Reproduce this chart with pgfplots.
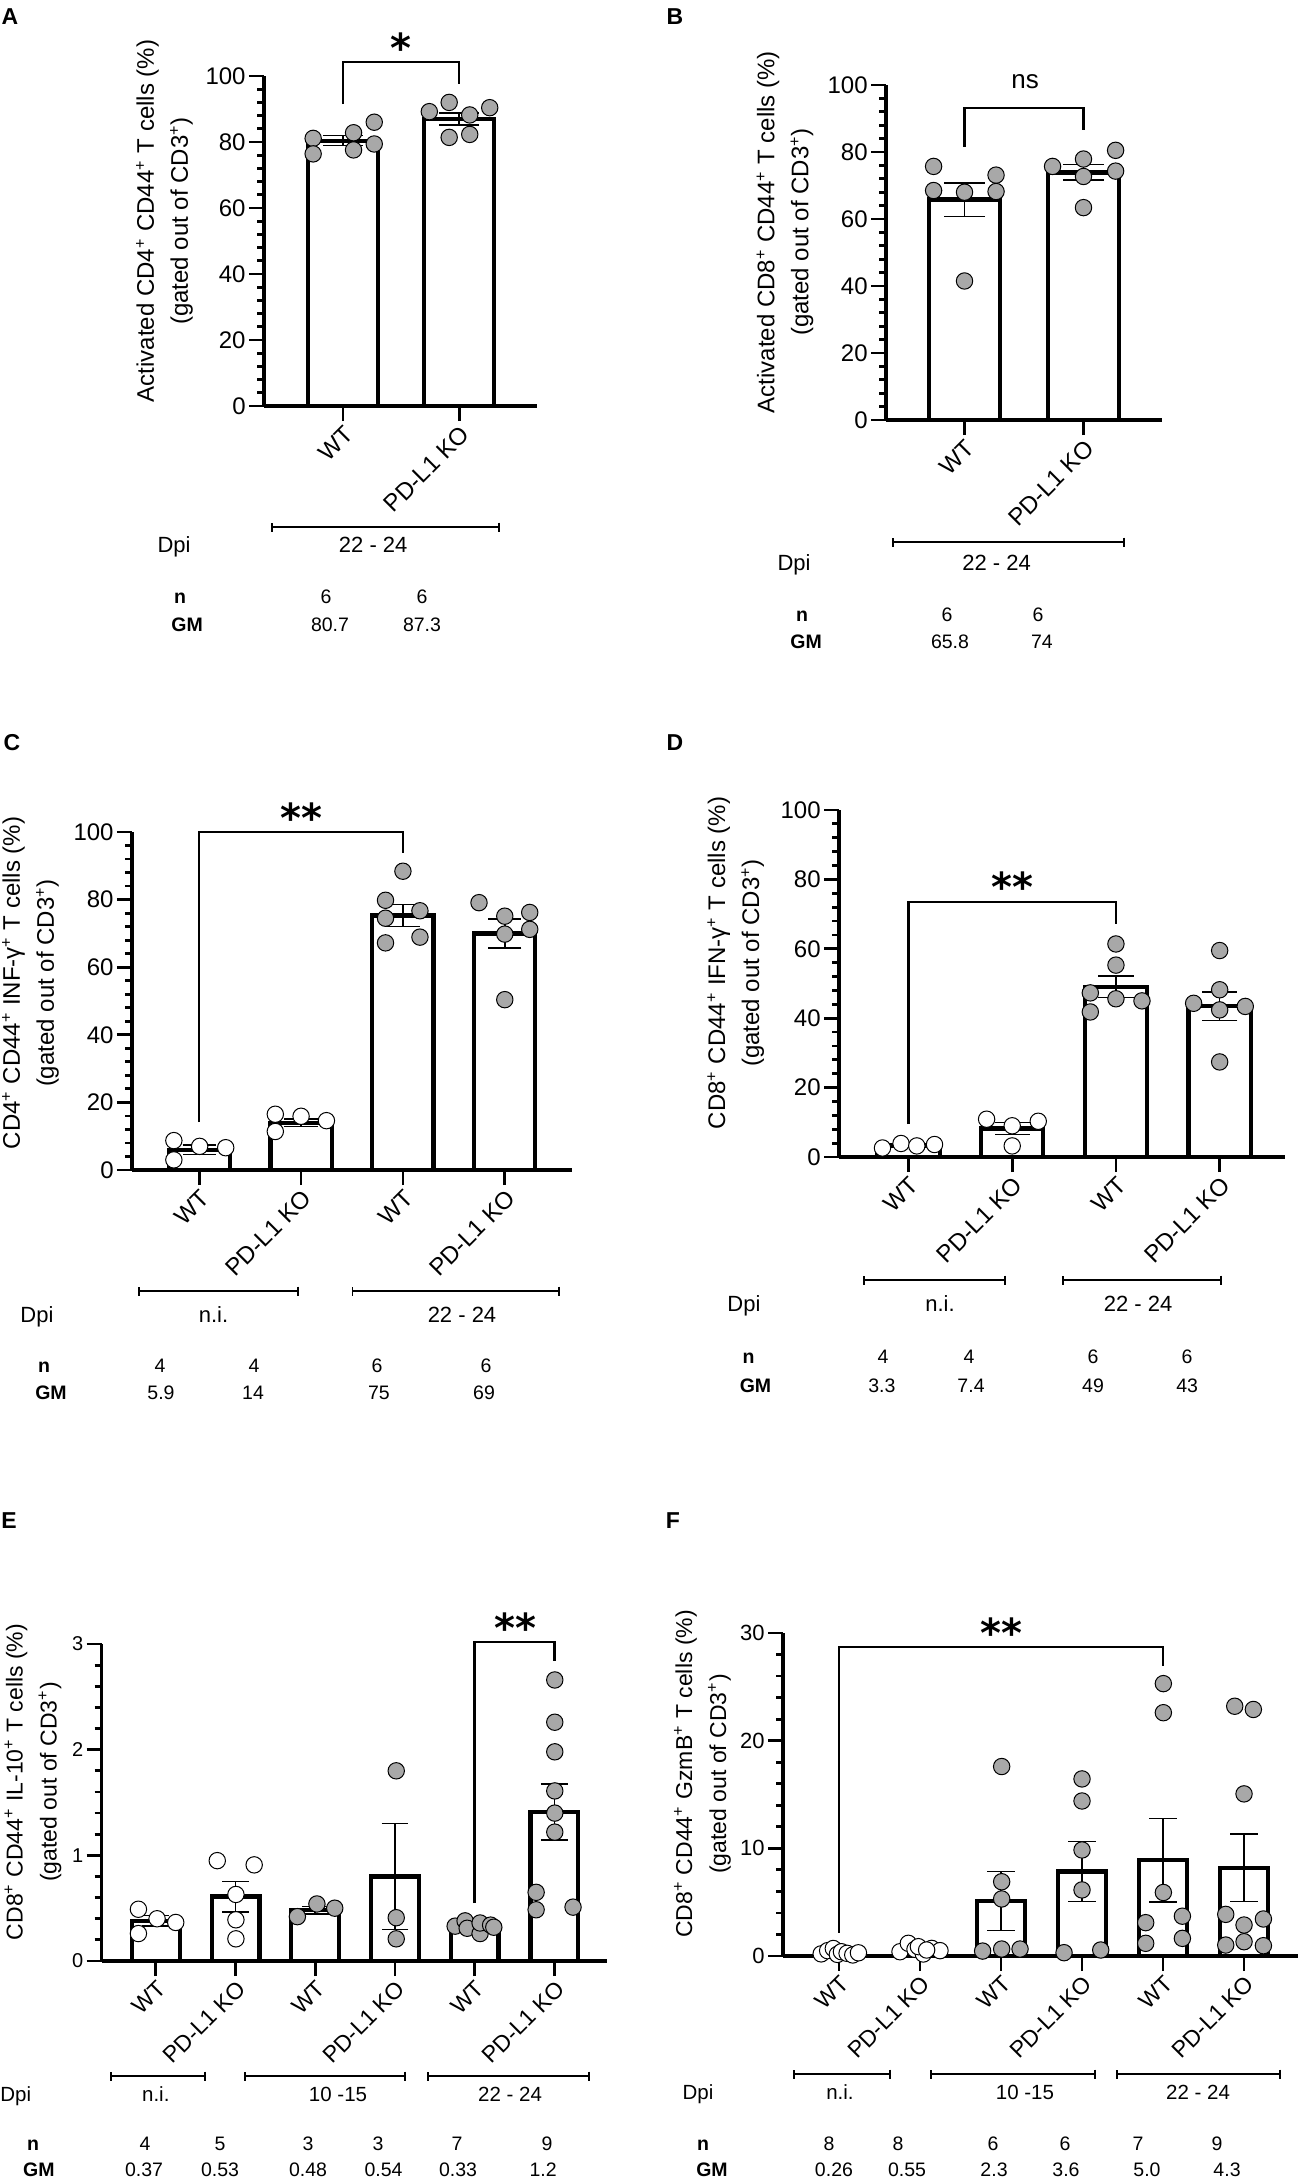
\documentclass[border=0pt]{standalone}
\usepackage{fontspec}
\setmainfont{Liberation Sans}
\newfontfamily\djv{DejaVu Sans}
\usepackage{pgfplots}
\pgfplotsset{compat=1.18}
\usetikzlibrary{arrows.meta}
\definecolor{ptgray}{RGB}{168,168,168}
\newcommand\starf{\djv\bfseries\fontsize{20}{20}\selectfont}
\newcommand\dpif{\fontsize{11}{11}\selectfont}
\newcommand\dpifs{\fontsize{10.25}{10.25}\selectfont}
\newcommand\nf{\fontsize{9.75}{9.75}\selectfont}
\newcommand\nbf{\fontsize{9.75}{9.75}\selectfont\bfseries}
\tikzset{
 brk/.style={line width=1.25pt, black},
 dpi/.style={line width=0.85pt, {Bar[width=4.5pt]}-{Bar[width=4.5pt]}},
}
\pgfplotsset{
 panel/.style={
  scale only axis, anchor=south west,
  axis x line*=bottom, axis y line*=left,
  axis line style={line width=1.9pt, black},
  tick align=outside,
  major tick length=7.5pt, minor tick length=3.5pt,
  tick style={line width=1.4pt, black},
  ymin=0, clip=false,
  minor y tick num=4,
  /pgf/number format/assume math mode=true,
  x tick label style={rotate=45, anchor=north east, inner sep=1pt},
  y tick label style={inner sep=1.5pt},
  ylabel style={align=center, anchor=center},
 },
 bars/.style={ybar, bar width=0.6, draw=black, fill=white, line width=2.1pt},
 gpts/.style={only marks, mark=*, mark size=4.1pt, mark options={fill=ptgray, draw=black, line width=0.5pt, solid}},
 wpts/.style={only marks, mark=*, mark size=4.1pt, mark options={fill=white, draw=black, line width=0.5pt, solid}},
 sem/.style={draw=none, mark=none, error bars/.cd, y dir=both, y explicit, error bar style={draw=black, line width=0.75pt, solid}, error mark options={rotate=90, mark size=#1, line width=0.75pt, draw=black}},
}
\begin{document}
\begin{tikzpicture}
\useasboundingbox (0,0) rectangle (649.5pt,-1089pt);
% panel letters
\node[anchor=base, font=\fontsize{11.5}{11.5}\selectfont\bfseries] at (5pt,-12.3pt) {A};
\node[anchor=base, font=\fontsize{11.5}{11.5}\selectfont\bfseries] at (337.5pt,-12.3pt) {B};
\node[anchor=base, font=\fontsize{11.5}{11.5}\selectfont\bfseries] at (6pt,-375.3pt) {C};
\node[anchor=base, font=\fontsize{11.5}{11.5}\selectfont\bfseries] at (337.5pt,-375.3pt) {D};
\node[anchor=base, font=\fontsize{11.5}{11.5}\selectfont\bfseries] at (4.5pt,-764.3pt) {E};
\node[anchor=base, font=\fontsize{11.5}{11.5}\selectfont\bfseries] at (336.5pt,-764.3pt) {F};

% ---------------- A ----------------
\begin{axis}[panel, at={(132pt,-203pt)}, width=136.5pt, height=165pt,
 xmin=-0.68, xmax=1.67, ymax=100, ytick={0,20,...,100},
 xtick={0,1}, xticklabels={WT,PD-L1 KO},
 x tick label style={font=\fontsize{12}{12}\selectfont},
 y tick label style={font=\fontsize{12}{12}\selectfont},
 ylabel={Activated CD4\textsuperscript{+} CD44\textsuperscript{+} T cells (\%)\\(gated out of CD3\textsuperscript{+})},
 ylabel style={font=\fontsize{12}{17}\selectfont, at={(axis description cs:-0.3645,0.5606)}}]
\addplot[bars] coordinates {(0,80.4) (1,87.0)};
\addplot[gpts] coordinates {(-0.257,81.1) (-0.257,76.4) (0.091,82.8) (0.091,77.6) (0.269,86.0) (0.269,79.4)
 (0.743,89.2) (0.914,92.0) (1.091,88.2) (1.263,90.4) (0.914,81.4) (1.091,82.3)};
\addplot[sem=10pt] coordinates {(0,80.4) +- (0,1.5) (1,87.0) +- (0,1.8)};
\draw[brk] (axis cs:0,91.5) -- (axis cs:0,104.2) -- (axis cs:1,104.2) -- (axis cs:1,97.6);
\node[anchor=base, font=\starf] at (axis cs:0.5,104.2) {*};
\draw[dpi] ([yshift=-60.5pt]axis cs:-0.62,0) -- ([yshift=-60.5pt]axis cs:1.35,0);
\node[anchor=base, font=\dpif] at ([yshift=-73pt]axis cs:0.26,0) {22 - 24};
\node[anchor=base, font=\dpif] at ([yshift=-73pt]axis cs:-1.454,0) {Dpi};
\node[anchor=base, font=\nbf] at ([yshift=-98.5pt]axis cs:-1.403,0) {n};
\node[anchor=base, font=\nf] at ([yshift=-98.5pt]axis cs:-0.146,0) {6};
\node[anchor=base, font=\nf] at ([yshift=-98.5pt]axis cs:0.68,0) {6};
\node[anchor=base, font=\nbf] at ([yshift=-112.5pt]axis cs:-1.342,0) {GM};
\node[anchor=base, font=\nf] at ([yshift=-112.5pt]axis cs:-0.112,0) {80.7};
\node[anchor=base, font=\nf] at ([yshift=-112.5pt]axis cs:0.68,0) {87.3};
\end{axis}

% ---------------- B ----------------
\begin{axis}[panel, at={(443pt,-210pt)}, width=138pt, height=167.5pt,
 xmin=-0.66, xmax=1.66, ymax=100, ytick={0,20,...,100},
 xtick={0,1}, xticklabels={WT,PD-L1 KO},
 x tick label style={font=\fontsize{12}{12}\selectfont},
 y tick label style={font=\fontsize{12}{12}\selectfont},
 ylabel={Activated CD8\textsuperscript{+} CD44\textsuperscript{+} T cells (\%)\\(gated out of CD3\textsuperscript{+})},
 ylabel style={font=\fontsize{12}{17}\selectfont, at={(axis description cs:-0.366,0.561)}}]
\addplot[bars] coordinates {(0,65.8) (1,73.9)};
\addplot[gpts] coordinates {(-0.26,75.7) (-0.26,68.5) (0,68.0) (0,41.5) (0.265,73.1) (0.265,68.2)
 (0.74,75.7) (1,77.9) (1,72.7) (1,63.4) (1.27,80.5) (1.27,74.3)};
\addplot[sem=10.3pt] coordinates {(0,65.8) +- (0,5.0) (1,73.9) +- (0,2.3)};
\draw[brk] (axis cs:0,81.5) -- (axis cs:0,93.1) -- (axis cs:1,93.1) -- (axis cs:1,86.6);
\node[anchor=base, font=\fontsize{13}{13}\selectfont] at (axis cs:0.51,98.9) {ns};
\draw[dpi] ([yshift=-61pt]axis cs:-0.61,0) -- ([yshift=-61pt]axis cs:1.35,0);
\node[anchor=base, font=\dpif] at ([yshift=-75pt]axis cs:0.27,0) {22 - 24};
\node[anchor=base, font=\dpif] at ([yshift=-75pt]axis cs:-1.433,0) {Dpi};
\node[anchor=base, font=\nbf] at ([yshift=-100.5pt]axis cs:-1.366,0) {n};
\node[anchor=base, font=\nf] at ([yshift=-100.5pt]axis cs:-0.147,0) {6};
\node[anchor=base, font=\nf] at ([yshift=-100.5pt]axis cs:0.618,0) {6};
\node[anchor=base, font=\nbf] at ([yshift=-114pt]axis cs:-1.332,0) {GM};
\node[anchor=base, font=\nf] at ([yshift=-114pt]axis cs:-0.122,0) {65.8};
\node[anchor=base, font=\nf] at ([yshift=-114pt]axis cs:0.651,0) {74};
\end{axis}

% ---------------- C ----------------
\begin{axis}[panel, at={(66pt,-585pt)}, width=220pt, height=169pt,
 xmin=-0.66, xmax=3.66, ymax=100, ytick={0,20,...,100},
 xtick={0,1,2,3}, xticklabels={WT,PD-L1 KO,WT,PD-L1 KO},
 x tick label style={font=\fontsize{12}{12}\selectfont},
 y tick label style={font=\fontsize{12}{12}\selectfont},
 ylabel={CD4\textsuperscript{+} CD44\textsuperscript{+} INF-γ\textsuperscript{+} T cells (\%)\\(gated out of CD3\textsuperscript{+})},
 ylabel style={font=\fontsize{12}{17}\selectfont, at={(axis description cs:-0.2307,0.553)}}]
\addplot[bars] coordinates {(0,6.0) (1,14.0) (2,75.3) (3,70.0)};
\addplot[wpts] coordinates {(-0.249,8.7) (-0.249,3.0) (0.004,7.0) (0.26,6.6) (0.747,16.5) (0.747,11.4) (1,15.9) (1.249,14.6)};
\addplot[gpts] coordinates {(2,88.4) (1.829,79.8) (1.829,74.5) (1.829,67.2) (2.167,76.7) (2.167,68.9)
 (2.747,79.1) (3,75.1) (3,69.8) (3,50.4) (3.245,76.2) (3.245,71.2)};
\addplot[sem=8.3pt] coordinates {(0,6.0) +- (0,1.4) (1,14.0) +- (0,1.1) (2,75.3) +- (0,3.3) (3,70.0) +- (0,4.3)};
\draw[brk] (axis cs:0,14.2) -- (axis cs:0,100) -- (axis cs:2,100) -- (axis cs:2,93.8);
\node[anchor=base, font=\starf] at (axis cs:1.0,100) {**};
\draw[dpi] ([yshift=-60.5pt]axis cs:-0.60,0) -- ([yshift=-60.5pt]axis cs:0.975,0);
\draw[dpi] ([yshift=-60.5pt]axis cs:1.496,0) -- ([yshift=-60.5pt]axis cs:3.542,0);
\node[anchor=base, font=\dpif] at ([yshift=-76pt]axis cs:0.14,0) {n.i.};
\node[anchor=base, font=\dpif] at ([yshift=-76pt]axis cs:2.58,0) {22 - 24};
\node[anchor=base, font=\dpif] at ([yshift=-76pt]axis cs:-1.593,0) {Dpi};
\node[anchor=base, font=\nbf] at ([yshift=-101pt]axis cs:-1.524,0) {n};
\node[anchor=base, font=\nf] at ([yshift=-101pt]axis cs:-0.385,0) {4};
\node[anchor=base, font=\nf] at ([yshift=-101pt]axis cs:0.538,0) {4};
\node[anchor=base, font=\nf] at ([yshift=-101pt]axis cs:1.746,0) {6};
\node[anchor=base, font=\nf] at ([yshift=-101pt]axis cs:2.816,0) {6};
\node[anchor=base, font=\nbf] at ([yshift=-114.5pt]axis cs:-1.455,0) {GM};
\node[anchor=base, font=\nf] at ([yshift=-114.5pt]axis cs:-0.375,0) {5.9};
\node[anchor=base, font=\nf] at ([yshift=-114.5pt]axis cs:0.528,0) {14};
\node[anchor=base, font=\nf] at ([yshift=-114.5pt]axis cs:1.765,0) {75};
\node[anchor=base, font=\nf] at ([yshift=-114.5pt]axis cs:2.796,0) {69};
\end{axis}

% ---------------- D ----------------
\begin{axis}[panel, at={(419.5pt,-578.5pt)}, width=223pt, height=173.5pt,
 xmin=-0.67, xmax=3.63, ymax=100, ytick={0,20,...,100},
 xtick={0,1,2,3}, xticklabels={WT,PD-L1 KO,WT,PD-L1 KO},
 x tick label style={font=\fontsize{12}{12}\selectfont},
 y tick label style={font=\fontsize{12}{12}\selectfont},
 ylabel={CD8\textsuperscript{+} CD44\textsuperscript{+} IFN-γ\textsuperscript{+} T cells (\%)\\(gated out of CD3\textsuperscript{+})},
 ylabel style={font=\fontsize{12}{17}\selectfont, at={(axis description cs:-0.2315,0.559)}}]
\addplot[bars] coordinates {(0,3.3) (1,8.2) (2,49.0) (3,43.5)};
\addplot[wpts] coordinates {(-0.251,2.6) (-0.072,3.9) (0.08,3.2) (0.251,3.6) (0.753,10.9) (1,9.0) (1,3.2) (1.251,10.3)};
\addplot[gpts] coordinates {(2,61.4) (2,55.3) (1.753,47.3) (1.753,41.8) (2,45.6) (2.251,45.0)
 (3,59.5) (3,48.2) (2.749,44.3) (3,42.4) (3.247,43.4) (3,27.4)};
\addplot[sem=8.8pt] coordinates {(0,3.3) +- (0,0.4) (1,8.2) +- (0,1.7) (2,49.0) +- (0,3.1) (3,43.5) +- (0,4.1)};
\draw[brk] (axis cs:0,9.5) -- (axis cs:0,73.5) -- (axis cs:2,73.5) -- (axis cs:2,67.1);
\node[anchor=base, font=\starf] at (axis cs:1.0,73.5) {**};
\draw[dpi] ([yshift=-61.5pt]axis cs:-0.439,0) -- ([yshift=-61.5pt]axis cs:0.94,0);
\draw[dpi] ([yshift=-61.5pt]axis cs:1.48,0) -- ([yshift=-61.5pt]axis cs:3.023,0);
\node[anchor=base, font=\dpif] at ([yshift=-77pt]axis cs:0.304,0) {n.i.};
\node[anchor=base, font=\dpif] at ([yshift=-77pt]axis cs:2.213,0) {22 - 24};
\node[anchor=base, font=\dpif] at ([yshift=-77pt]axis cs:-1.586,0) {Dpi};
\node[anchor=base, font=\nbf] at ([yshift=-103pt]axis cs:-1.543,0) {n};
\node[anchor=base, font=\nf] at ([yshift=-103pt]axis cs:-0.246,0) {4};
\node[anchor=base, font=\nf] at ([yshift=-103pt]axis cs:0.583,0) {4};
\node[anchor=base, font=\nf] at ([yshift=-103pt]axis cs:1.779,0) {6};
\node[anchor=base, font=\nf] at ([yshift=-103pt]axis cs:2.686,0) {6};
\node[anchor=base, font=\nbf] at ([yshift=-117.5pt]axis cs:-1.475,0) {GM};
\node[anchor=base, font=\nf] at ([yshift=-117.5pt]axis cs:-0.256,0) {3.3};
\node[anchor=base, font=\nf] at ([yshift=-117.5pt]axis cs:0.603,0) {7.4};
\node[anchor=base, font=\nf] at ([yshift=-117.5pt]axis cs:1.779,0) {49};
\node[anchor=base, font=\nf] at ([yshift=-117.5pt]axis cs:2.686,0) {43};
\end{axis}

% ---------------- E ----------------
\begin{axis}[panel, at={(50.8pt,-980.5pt)}, width=252.7pt, height=158.5pt,
 xmin=-0.68, xmax=5.66, ymax=3, ytick={0,1,2,3},
 xtick={0,...,5}, xticklabels={WT,PD-L1 KO,WT,PD-L1 KO,WT,PD-L1 KO},
 x tick label style={font=\fontsize{11.5}{11.5}\selectfont},
 y tick label style={font=\fontsize{10}{10}\selectfont},
 ylabel={CD8\textsuperscript{+} CD44\textsuperscript{+} IL-10\textsuperscript{+} T cells (\%)\\(gated out of CD3\textsuperscript{+})},
 ylabel style={font=\fontsize{11.5}{17}\selectfont, at={(axis description cs:-0.1357,0.5647)}}]
\addplot[bars] coordinates {(0,0.38) (1,0.61) (2,0.48) (3,0.80) (4,0.33) (5,1.41)};
\addplot[wpts] coordinates {(-0.218,0.49) (-0.218,0.26) (0.016,0.40) (0.25,0.365) (0.771,0.95) (1.234,0.91) (1.005,0.63) (1.005,0.39) (1.005,0.21)};
\addplot[gpts] coordinates {(1.776,0.42) (2.021,0.54) (2.245,0.50) (3.016,1.80) (3.016,0.41) (3.016,0.21)
 (3.755,0.33) (3.88,0.38) (3.906,0.31) (4.068,0.26) (4.068,0.36) (4.2,0.34) (4.24,0.32)
 (5.005,2.66) (5.005,2.26) (5.005,1.98) (5.005,1.61) (5.005,1.40) (5.005,1.22) (4.771,0.65) (4.771,0.485) (5.234,0.51)};
\addplot[sem=6.7pt] coordinates {(0,0.38) +- (0,0.05) (1,0.61) +- (0,0.145) (2,0.48) +- (0,0.035) (3,0.80) +- (0,0.50) (4,0.33) +- (0,0.02) (5,1.41) +- (0,0.265)};
\draw[brk] (axis cs:4,0.549) -- (axis cs:4,3.019) -- (axis cs:5,3.019) -- (axis cs:5,2.839);
\node[anchor=base, font=\starf] at (axis cs:4.507,3.019) {**};
\draw[dpi] ([yshift=-57.5pt]axis cs:-0.575,0) -- ([yshift=-57.5pt]axis cs:0.63,0);
\draw[dpi] ([yshift=-57.5pt]axis cs:1.107,0) -- ([yshift=-57.5pt]axis cs:3.139,0);
\draw[dpi] ([yshift=-57.5pt]axis cs:3.403,0) -- ([yshift=-57.5pt]axis cs:5.442,0);
\node[anchor=base, font=\dpifs] at ([yshift=-70pt]axis cs:0.0,0) {n.i.};
\node[anchor=base, font=\dpifs] at ([yshift=-70pt]axis cs:2.286,0) {10 -15};
\node[anchor=base, font=\dpifs] at ([yshift=-70pt]axis cs:4.444,0) {22 - 24};
\node[anchor=base west, inner xsep=0pt, font=\dpifs] at ([yshift=-70pt]axis cs:-1.955,0) {Dpi};
\node[anchor=base, font=\nbf] at ([yshift=-94.5pt]axis cs:-1.541,0) {n};
\node[anchor=base, font=\nf] at ([yshift=-94.5pt]axis cs:-0.136,0) {4};
\node[anchor=base, font=\nf] at ([yshift=-94.5pt]axis cs:0.806,0) {5};
\node[anchor=base, font=\nf] at ([yshift=-94.5pt]axis cs:1.91,0) {3};
\node[anchor=base, font=\nf] at ([yshift=-94.5pt]axis cs:2.788,0) {3};
\node[anchor=base, font=\nf] at ([yshift=-94.5pt]axis cs:3.779,0) {7};
\node[anchor=base, font=\nf] at ([yshift=-94.5pt]axis cs:4.908,0) {9};
\node[anchor=base, font=\nbf] at ([yshift=-107.5pt]axis cs:-1.466,0) {GM};
\node[anchor=base, font=\nf] at ([yshift=-107.5pt]axis cs:-0.148,0) {0.37};
\node[anchor=base, font=\nf] at ([yshift=-107.5pt]axis cs:0.806,0) {0.53};
\node[anchor=base, font=\nf] at ([yshift=-107.5pt]axis cs:1.91,0) {0.48};
\node[anchor=base, font=\nf] at ([yshift=-107.5pt]axis cs:2.857,0) {0.54};
\node[anchor=base, font=\nf] at ([yshift=-107.5pt]axis cs:3.792,0) {0.33};
\node[anchor=base, font=\nf] at ([yshift=-107.5pt]axis cs:4.858,0) {1.2};
\end{axis}

% ---------------- F ----------------
\begin{axis}[panel, at={(391.5pt,-978pt)}, width=257.25pt, height=161.5pt,
 xmin=-0.691, xmax=5.66, ymax=30, ytick={0,10,20,30},
 xtick={0,...,5}, xticklabels={WT,PD-L1 KO,WT,PD-L1 KO,WT,PD-L1 KO},
 x tick label style={font=\fontsize{11.5}{11.5}\selectfont},
 y tick label style={font=\fontsize{11}{11}\selectfont},
 ylabel={CD8\textsuperscript{+} CD44\textsuperscript{+} GzmB\textsuperscript{+} T cells (\%)\\(gated out of CD3\textsuperscript{+})},
 ylabel style={font=\fontsize{11.5}{17}\selectfont, at={(axis description cs:-0.1565,0.5635)}}]
\addplot[bars] coordinates {(0,0.3) (1,0.6) (2,5.1) (3,7.85) (4,8.9) (5,8.2)};
\addplot[wpts] coordinates {(-0.22,0.2) (-0.14,0.5) (-0.07,0.7) (-0.02,0.15) (0.03,0.4) (0.1,0.25) (0.17,0.1) (0.24,0.3)
 (0.753,0.4) (0.856,1.18) (0.938,0.62) (1.041,0.19) (1.144,0.71) (1.247,0.5) (0.98,0.87) (1.082,0.56)};
\addplot[gpts] coordinates {(2.008,17.6) (2.008,6.9) (2.008,5.3) (1.773,0.46) (2.008,0.65) (2.235,0.65)
 (3,16.45) (3,14.4) (3,9.85) (3,6.14) (2.778,0.31) (3.231,0.56)
 (4.004,25.3) (4.004,22.6) (4.004,5.9) (3.786,3.1) (3.786,1.18) (4.239,3.7) (4.239,1.64)
 (4.885,23.2) (5.115,22.9) (5,15.06) (4.774,3.87) (5.239,3.44) (5,2.88) (4.774,1.02) (5,1.33) (5.239,0.96)};
\addplot[sem=6.8pt] coordinates {(0,0.3) +- (0,0.08) (1,0.6) +- (0,0.12) (2,5.1) +- (0,2.73) (3,7.85) +- (0,2.8) (4,8.9) +- (0,3.87) (5,8.2) +- (0,3.13)};
\draw[brk] (axis cs:0,2.14) -- (axis cs:0,28.7) -- (axis cs:4,28.7) -- (axis cs:4,26.9);
\node[anchor=base, font=\starf] at (axis cs:2.01,28.7) {**};
\draw[dpi] ([yshift=-59pt]axis cs:-0.568,0) -- ([yshift=-59pt]axis cs:0.642,0);
\draw[dpi] ([yshift=-59pt]axis cs:1.123,0) -- ([yshift=-59pt]axis cs:3.173,0);
\draw[dpi] ([yshift=-59pt]axis cs:3.42,0) -- ([yshift=-59pt]axis cs:5.457,0);
\node[anchor=base, font=\dpifs] at ([yshift=-71.5pt]axis cs:0.012,0) {n.i.};
\node[anchor=base, font=\dpifs] at ([yshift=-71.5pt]axis cs:2.296,0) {10 -15};
\node[anchor=base, font=\dpifs] at ([yshift=-71.5pt]axis cs:4.432,0) {22 - 24};
\node[anchor=base, font=\dpifs] at ([yshift=-71.5pt]axis cs:-1.741,0) {Dpi};
\node[anchor=base, font=\nbf] at ([yshift=-97pt]axis cs:-1.679,0) {n};
\node[anchor=base, font=\nf] at ([yshift=-97pt]axis cs:-0.123,0) {8};
\node[anchor=base, font=\nf] at ([yshift=-97pt]axis cs:0.728,0) {8};
\node[anchor=base, font=\nf] at ([yshift=-97pt]axis cs:1.901,0) {6};
\node[anchor=base, font=\nf] at ([yshift=-97pt]axis cs:2.79,0) {6};
\node[anchor=base, font=\nf] at ([yshift=-97pt]axis cs:3.691,0) {7};
\node[anchor=base, font=\nf] at ([yshift=-97pt]axis cs:4.667,0) {9};
\node[anchor=base, font=\nbf] at ([yshift=-110pt]axis cs:-1.568,0) {GM};
\node[anchor=base, font=\nf] at ([yshift=-110pt]axis cs:-0.062,0) {0.26};
\node[anchor=base, font=\nf] at ([yshift=-110pt]axis cs:0.84,0) {0.55};
\node[anchor=base, font=\nf] at ([yshift=-110pt]axis cs:1.914,0) {2.3};
\node[anchor=base, font=\nf] at ([yshift=-110pt]axis cs:2.802,0) {3.6};
\node[anchor=base, font=\nf] at ([yshift=-110pt]axis cs:3.802,0) {5.0};
\node[anchor=base, font=\nf] at ([yshift=-110pt]axis cs:4.79,0) {4.3};
\end{axis}
\end{tikzpicture}
\end{document}
